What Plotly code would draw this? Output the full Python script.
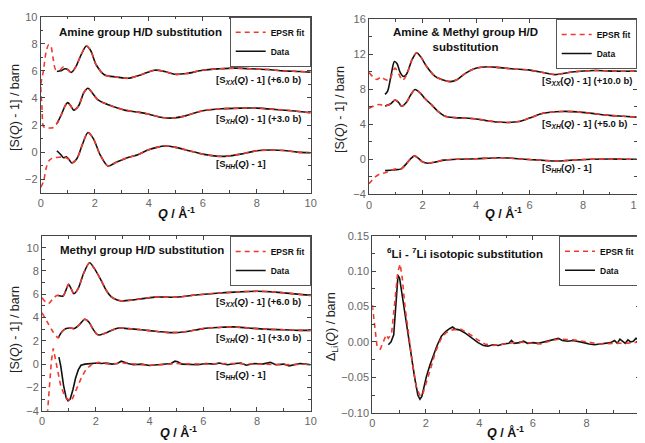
import plotly.graph_objects as go

# ---------------- DATA ----------------
# Panel 1: Amine group H/D substitution
p1_xx_q = [0.6, 0.75, 0.9, 1.0, 1.13, 1.3, 1.5, 1.69, 1.85, 2.06, 2.37, 2.8, 3.23, 3.7, 4.22, 4.6, 4.96, 5.4, 6.0, 6.6, 7.2, 7.8, 8.4, 9.0, 9.6, 10.0]
p1_xx = [5.95, 6.0, 6.15, 6.1, 5.88, 6.3, 7.2, 7.83, 7.5, 6.43, 5.69, 5.55, 5.45, 5.7, 6.05, 5.95, 5.75, 5.8, 6.05, 6.15, 6.2, 6.15, 6.1, 6.0, 5.95, 5.9]
p1_xx_fit_lowq_q = [0.0, 0.1, 0.2, 0.3, 0.38, 0.47, 0.55, 0.7, 0.85]
p1_xx_fit_lowq = [5.0, 6.0, 7.4, 7.95, 7.8, 6.8, 6.1, 6.05, 6.3]

p1_xh_q = [0.6, 0.75, 0.9, 1.0, 1.1, 1.22, 1.4, 1.6, 1.75, 1.9, 2.1, 2.37, 2.7, 3.1, 3.6, 4.0, 4.5, 4.96, 5.4, 6.0, 6.7, 7.4, 8.0, 8.7, 9.3, 10.0]
p1_xh = [2.1, 2.7, 3.4, 3.65, 3.45, 3.1, 3.4, 4.4, 4.71, 4.4, 3.9, 3.6, 3.35, 3.1, 2.95, 2.8, 2.55, 2.52, 2.7, 3.05, 3.2, 3.25, 3.25, 3.15, 3.05, 2.9]
p1_xh_fit_lowq_q = [0.0, 0.05, 0.1, 0.2, 0.35, 0.45, 0.52]
p1_xh_fit_lowq = [4.8, 3.2, 1.9, 1.78, 1.78, 1.8, 2.0]

p1_hh_q = [0.6, 0.75, 0.85, 0.95, 1.05, 1.15, 1.35, 1.55, 1.75, 1.95, 2.2, 2.49, 2.8, 3.23, 3.6, 3.97, 4.3, 4.6, 5.0, 5.5, 6.0, 6.5, 6.9, 7.4, 8.0, 8.5, 9.0, 9.5, 10.0]
p1_hh = [0.1, -0.2, -0.42, -0.35, -0.55, -0.8, -0.45, 0.6, 1.45, 1.0, -0.2, -1.03, -0.75, -0.4, -0.2, 0.15, 0.35, 0.45, 0.35, 0.1, -0.15, -0.3, -0.3, -0.15, 0.1, 0.15, 0.12, 0.0, -0.05]
p1_hh_fit_lowq_q = [0.0, 0.1, 0.2, 0.3, 0.4, 0.5, 0.7, 0.85]
p1_hh_fit_lowq = [-2.6, -2.2, -1.2, -0.65, -0.48, -0.42, -0.38, -0.36]

# Panel 2: Amine & Methyl group H/D substitution
p2_xx_q = [0.6, 0.7, 0.82, 0.95, 1.05, 1.15, 1.28, 1.4, 1.6, 1.78, 1.95, 2.16, 2.47, 2.8, 3.03, 3.3, 3.6, 3.96, 4.46, 4.9, 5.4, 5.95, 6.5, 6.95, 7.57, 8.44, 9.2, 10.0]
p2_xx = [7.4, 7.8, 9.5, 11.15, 10.9, 10.0, 9.45, 9.7, 11.3, 12.15, 11.6, 10.55, 9.45, 9.0, 8.85, 9.1, 9.8, 10.35, 10.55, 10.45, 10.3, 10.2, 9.9, 9.65, 9.95, 10.12, 10.05, 10.05]
p2_xx_fit_lowq_q = [0.0, 0.15, 0.3, 0.45, 0.6, 0.75, 0.97, 1.1, 1.25, 1.4]
p2_xx_fit_lowq = [9.9, 9.4, 9.1, 9.4, 9.1, 9.0, 10.4, 9.8, 9.0, 9.6]

p2_xh_q = [0.6, 0.8, 0.97, 1.1, 1.22, 1.4, 1.55, 1.72, 1.9, 2.1, 2.34, 2.6, 2.84, 3.2, 3.6, 4.0, 4.4, 4.8, 5.2, 5.6, 6.0, 6.5, 7.2, 7.8, 8.4, 9.0, 9.5, 10.0]
p2_xh = [6.08, 6.3, 6.76, 6.5, 6.05, 6.5, 7.3, 7.95, 7.6, 6.9, 6.2, 5.4, 4.9, 4.75, 4.7, 4.6, 4.4, 4.25, 4.2, 4.3, 4.7, 5.25, 5.45, 5.4, 5.2, 5.0, 4.9, 4.8]
p2_xh_fit_lowq_q = [0.0, 0.2, 0.4, 0.55]
p2_xh_fit_lowq = [5.8, 6.1, 6.25, 6.1]

p2_hh_q = [0.6, 0.8, 1.0, 1.2, 1.4, 1.55, 1.7, 1.85, 2.0, 2.2, 2.5, 2.8, 3.3, 4.0, 4.6, 5.2, 5.8, 6.4, 7.0, 7.6, 8.3, 9.0, 9.6, 10.0]
p2_hh = [-1.3, -1.25, -1.2, -1.1, -0.5, 0.05, 0.38, 0.1, -0.3, -0.45, -0.3, -0.1, 0.0, 0.05, 0.15, 0.15, 0.0, -0.1, -0.2, -0.1, 0.0, 0.02, 0.0, 0.0]
p2_hh_fit_lowq_q = [0.0, 0.2, 0.4, 0.6, 0.8, 1.0]
p2_hh_fit_lowq = [-2.8, -2.1, -1.7, -1.55, -1.3, -1.1]

# Panel 3: Methyl group H/D substitution
p3_xx_q = [0.6, 0.78, 0.9, 0.99, 1.08, 1.19, 1.35, 1.55, 1.77, 1.95, 2.2, 2.4, 2.58, 2.8, 2.95, 3.5, 4.2, 5.0, 5.8, 6.6, 7.3, 8.0, 8.6, 9.3, 10.0]
p3_xx = [5.9, 5.85, 6.4, 6.85, 6.5, 6.05, 6.5, 7.8, 8.7, 8.2, 7.2, 6.3, 5.77, 5.5, 5.43, 5.55, 5.75, 5.75, 5.95, 6.1, 6.2, 6.25, 6.2, 6.05, 5.9]
p3_xx_fit_lowq_q = [0.0, 0.15, 0.25, 0.4, 0.55]
p3_xx_fit_lowq = [5.7, 5.3, 5.2, 5.6, 5.9]

p3_xh_q = [0.6, 0.75, 0.9, 1.05, 1.2, 1.4, 1.59, 1.75, 1.9, 2.05, 2.15, 2.35, 2.6, 2.85, 3.2, 3.7, 4.3, 4.8, 5.4, 6.0, 6.6, 7.1, 7.7, 8.3, 9.0, 9.6, 10.0]
p3_xh = [2.25, 2.8, 3.06, 3.1, 3.05, 3.4, 3.85, 3.6, 3.0, 2.55, 2.5, 2.65, 2.9, 3.1, 3.05, 2.95, 2.8, 2.7, 2.8, 3.05, 3.15, 3.2, 3.1, 3.0, 2.95, 2.9, 2.9]
p3_xh_fit_lowq_q = [0.0, 0.2, 0.4, 0.55]
p3_xh_fit_lowq = [4.4, 3.6, 2.8, 2.35]

p3_hh_q = [0.63, 0.7, 0.8, 0.9, 0.97, 1.05, 1.15, 1.25, 1.35, 1.45, 1.6, 1.75, 1.9, 2.05, 2.2, 2.4, 2.6, 2.8, 2.95, 3.05, 3.2, 3.4, 3.7, 4.0, 4.3, 4.6, 4.8, 4.95, 5.05, 5.2, 5.5, 5.8, 6.1, 6.4, 6.6, 6.9, 7.2, 7.4, 7.6, 7.9, 8.2, 8.5, 8.7, 9.0, 9.2, 9.4, 9.6, 9.8, 10.0]
p3_hh = [0.6, -0.2, -1.8, -2.9, -3.15, -3.0, -2.2, -1.2, -0.5, -0.1, 0.0, 0.05, 0.05, 0.1, 0.05, 0.1, 0.0, 0.05, 0.25, 0.15, 0.05, -0.05, 0.0, -0.12, -0.05, 0.0, 0.05, 0.25, 0.2, 0.0, 0.0, -0.05, 0.05, 0.0, 0.1, -0.05, 0.05, 0.1, -0.1, 0.05, 0.0, 0.15, -0.05, 0.0, -0.15, -0.05, 0.05, 0.0, -0.05]
p3_hh_fit_q = [0.2, 0.28, 0.35, 0.42, 0.5, 0.6, 0.7, 0.84, 0.95, 1.09, 1.2, 1.32, 1.46, 1.6, 1.71, 1.9, 2.1, 2.5, 3.0, 3.5, 4.0, 4.5, 5.0, 6.0, 7.0, 8.0, 9.0, 10.0]
p3_hh_fit = [-4.3, -2.0, 0.3, 1.35, 0.4, -1.0, -1.9, -2.7, -3.0, -3.2, -2.6, -1.9, -1.2, -0.6, -0.3, 0.05, 0.15, 0.0, 0.1, 0.0, -0.1, -0.05, 0.05, 0.0, 0.05, 0.0, -0.05, 0.0]

# Panel 4: 6Li - 7Li isotopic substitution
p4_q = [0.6, 0.7, 0.8, 0.88, 0.96, 1.02, 1.08, 1.18, 1.27, 1.37, 1.46, 1.58, 1.7, 1.78, 1.85, 1.93, 2.02, 2.15, 2.27, 2.42, 2.58, 2.75, 2.9, 3.0, 3.1, 3.25, 3.45, 3.7, 3.95, 4.15, 4.32, 4.5, 4.7, 4.9, 5.1, 5.2, 5.3, 5.5, 5.65, 5.8, 6.0, 6.2, 6.4, 6.6, 6.8, 6.95, 7.1, 7.3, 7.5, 7.7, 7.9, 8.1, 8.3, 8.5, 8.7, 8.9, 9.05, 9.15, 9.25, 9.35, 9.45, 9.55, 9.65, 9.75, 9.85, 9.95, 10.0]
p4_data = [-0.004, 0.0, 0.01, 0.05, 0.094, 0.09, 0.075, 0.045, 0.022, 0.0, -0.02, -0.05, -0.075, -0.081, -0.077, -0.062, -0.049, -0.033, -0.02, -0.005, 0.008, 0.015, 0.019, 0.021, 0.018, 0.017, 0.013, 0.006, -0.001, -0.005, -0.006, -0.004, -0.005, -0.003, -0.002, 0.002, -0.002, -0.001, 0.001, -0.002, -0.001, -0.002, 0.0, 0.002, 0.004, 0.005, 0.002, 0.001, 0.002, 0.001, -0.001, -0.003, -0.004, -0.003, -0.002, -0.001, 0.002, -0.002, 0.004, 0.001, -0.002, 0.003, 0.0, 0.001, 0.005, 0.003, 0.002]
p4_fit_q = [0.0, 0.1, 0.18, 0.3, 0.42, 0.52, 0.6, 0.72, 0.85, 0.95, 1.04, 1.12, 1.22, 1.35, 1.5, 1.65, 1.8, 1.9, 2.05, 2.2, 2.35, 2.55, 2.75, 3.0, 3.3, 3.6, 3.9, 4.2, 4.5, 5.0, 5.5, 6.0, 6.3, 6.7, 7.0, 7.5, 8.0, 8.5, 9.0, 9.5, 10.0]
p4_fit = [0.052, 0.02, -0.007, -0.01, 0.0, 0.01, 0.005, 0.012, 0.06, 0.098, 0.11, 0.09, 0.05, 0.01, -0.03, -0.065, -0.077, -0.072, -0.055, -0.035, -0.015, 0.003, 0.013, 0.017, 0.018, 0.012, 0.004, -0.003, -0.005, -0.003, 0.0, -0.002, -0.003, 0.002, 0.004, 0.003, 0.0, -0.003, -0.002, -0.002, 0.0]

x_ticks = [0, 2, 4, 6, 8, 10]

# ---------------- FIGURE ----------------
FONT = "Liberation Sans, Arial, sans-serif"
RED = "#f03a2e"
BLACK = "#111111"
OFF = 8                      # default page margin around the plot div
W, H = 645 - OFF, 443 - OFF  # figure size so that it fits the window


def px_x(v):
    return (v - OFF) / W


def px_y(v):
    return 1 - (v - OFF) / H


fig = go.Figure()


def fit_from(lowq_q, lowq, data_q, data, qmin):
    q = list(lowq_q) + [a for a in data_q if a >= qmin]
    v = list(lowq) + [b for a, b in zip(data_q, data) if a >= qmin]
    return q, v


def add_pair(xa, ya, leg, dq, dv, fq, fv, show, dshape="spline"):
    fig.add_trace(go.Scatter(x=dq, y=dv, mode="lines", name="<b>Data</b>", xaxis=xa, yaxis=ya,
                             line=dict(color=BLACK, width=1.6, shape=dshape, smoothing=0.8),
                             legend=leg, showlegend=show, legendrank=2))
    fig.add_trace(go.Scatter(x=fq, y=fv, mode="lines", name="<b>EPSR fit</b>", xaxis=xa, yaxis=ya,
                             line=dict(color=RED, width=1.6, dash="5px,4px", shape=dshape, smoothing=0.8),
                             legend=leg, showlegend=show, legendrank=1))


# panel 1
q, v = fit_from(p1_xx_fit_lowq_q, p1_xx_fit_lowq, p1_xx_q, p1_xx, 1.0)
add_pair("x", "y", "legend", p1_xx_q, p1_xx, q, v, True)
q, v = fit_from(p1_xh_fit_lowq_q, p1_xh_fit_lowq, p1_xh_q, p1_xh, 0.6)
add_pair("x", "y", "legend", p1_xh_q, p1_xh, q, v, False)
q, v = fit_from(p1_hh_fit_lowq_q, p1_hh_fit_lowq, p1_hh_q, p1_hh, 1.05)
add_pair("x", "y", "legend", p1_hh_q, p1_hh, q, v, False)

# panel 2
q, v = fit_from(p2_xx_fit_lowq_q, p2_xx_fit_lowq, p2_xx_q, p2_xx, 1.6)
add_pair("x2", "y2", "legend2", p2_xx_q, p2_xx, q, v, True)
q, v = fit_from(p2_xh_fit_lowq_q, p2_xh_fit_lowq, p2_xh_q, p2_xh, 0.6)
add_pair("x2", "y2", "legend2", p2_xh_q, p2_xh, q, v, False)
q, v = fit_from(p2_hh_fit_lowq_q, p2_hh_fit_lowq, p2_hh_q, p2_hh, 1.2)
add_pair("x2", "y2", "legend2", p2_hh_q, p2_hh, q, v, False)

# panel 3
q, v = fit_from(p3_xx_fit_lowq_q, p3_xx_fit_lowq, p3_xx_q, p3_xx, 0.6)
add_pair("x3", "y3", "legend3", p3_xx_q, p3_xx, q, v, True)
q, v = fit_from(p3_xh_fit_lowq_q, p3_xh_fit_lowq, p3_xh_q, p3_xh, 0.6)
add_pair("x3", "y3", "legend3", p3_xh_q, p3_xh, q, v, False)
add_pair("x3", "y3", "legend3", p3_hh_q, p3_hh, p3_hh_fit_q, p3_hh_fit, False, dshape="linear")

# panel 4
add_pair("x4", "y4", "legend4", p4_q, p4_data, p4_fit_q, p4_fit, True, dshape="linear")

# axes (positions in window pixels)
dom = {
    1: ([40.7, 310.7], [16.7, 192.7]),
    2: ([369, 636.7], [19, 194.3]),
    3: ([42, 310.7], [236, 410.7]),
    4: ([372.3, 640], [235.7, 412.7]),
}
MINOR = dict(ticks="inside", ticklen=2.5, tickcolor="#444")
yspec = {
    1: dict(range=[-3, 10], dtick=2, tick0=0, minor=dict(dtick=1, **MINOR)),
    2: dict(range=[-4, 16], dtick=4, tick0=0, minor=dict(dtick=2, **MINOR)),
    3: dict(range=[-4, 11], dtick=2, tick0=0, minor=dict(dtick=1, **MINOR)),
    4: dict(range=[-0.10, 0.15], dtick=0.05, tick0=0, tickformat=".2f", minor=dict(dtick=0.025, **MINOR)),
}
common = dict(showline=True, linecolor="#444", linewidth=1, mirror="allticks", ticks="inside",
              ticklen=4, tickcolor="#444", showgrid=False, zeroline=False, automargin=False,
              tickfont=dict(family=FONT, size=11, color="#666"))
layout_axes = {}
for i in range(1, 5):
    sx = "" if i == 1 else str(i)
    (x0, x1), (y0, y1) = dom[i]
    layout_axes["xaxis" + sx] = dict(domain=[px_x(x0), min(1.0, px_x(x1))], anchor="y" + sx, range=[0, 10],
                                      tickvals=x_ticks, minor=dict(dtick=1, **MINOR), **common)
    layout_axes["yaxis" + sx] = dict(domain=[max(0.0, px_y(y1)), px_y(y0)], anchor="x" + sx, **yspec[i], **common)

fig.update_layout(**layout_axes)


# legends
def legend_spec(xr, yt):
    return dict(x=min(1.0, px_x(xr)), y=px_y(yt), xanchor="right", yanchor="top", bgcolor="white",
                bordercolor="#555", borderwidth=1, font=dict(family=FONT, size=8.5, color="#111"),
                tracegroupgap=0, itemwidth=30, traceorder="normal")


fig.update_layout(
    legend=legend_spec(310.7, 16.7),
    legend2=legend_spec(636.7, 19),
    legend3=legend_spec(310.7, 236),
    legend4=legend_spec(640, 235.7),
)

ann = []


def add_ann(text, x, y, size, xanchor="left", angle=0, xref="paper", yref="paper", bold=True, color="#111"):
    t = "<b>" + text + "</b>" if bold else text
    ann.append(dict(text=t, x=x, y=y, xref=xref, yref=yref, xanchor=xanchor, yanchor="middle",
                    showarrow=False, textangle=angle, font=dict(family=FONT, size=size, color=color)))


# panel titles
add_ann("Amine group H/D substitution", px_x(57), px_y(32), 11.5)
add_ann("Amine & Methyl group H/D<br>substitution", px_x(391), px_y(39.5), 11.5)
add_ann("Methyl group H/D substitution", px_x(58), px_y(250), 11.5)
add_ann("<sup>6</sup>Li - <sup>7</sup>Li isotopic substitution", px_x(385), px_y(252.5), 11.5)

# curve labels
lbl_xx = "[S<sub><i>XX</i></sub>(<i>Q</i>) - 1]"
lbl_xh = "[S<sub><i>XH</i></sub>(<i>Q</i>) - 1]"
lbl_hh = "[S<sub><i>HH</i></sub>(<i>Q</i>) - 1]"
add_ann(lbl_xx + " (+6.0 b)", 6.42, 5.32, 9.5, xref="x", yref="y")
add_ann(lbl_xh + " (+3.0 b)", 6.42, 2.44, 9.5, xref="x", yref="y")
add_ann(lbl_hh, 6.42, -0.88, 9.5, xref="x", yref="y")
add_ann(lbl_xx + " (+10.0 b)", 6.39, 8.93, 9.5, xref="x2", yref="y2")
add_ann(lbl_xh + " (+5.0 b)", 6.39, 4.0, 9.5, xref="x2", yref="y2")
add_ann(lbl_hh, 6.39, -0.96, 9.5, xref="x2", yref="y2")
add_ann(lbl_xx + " (+6.0 b)", 6.41, 5.34, 9.5, xref="x3", yref="y3")
add_ann(lbl_xh + " (+3.0 b)", 6.41, 2.25, 9.5, xref="x3", yref="y3")
add_ann(lbl_hh, 6.41, -0.94, 9.5, xref="x3", yref="y3")

# axis titles
ytitle = "[S(<i>Q</i>) - 1] / barn"
add_ann(ytitle, px_x(15), px_y(108), 12.5, xanchor="center", angle=-90, bold=False, color="#222")
add_ann(ytitle, px_x(340), px_y(110), 12.5, xanchor="center", angle=-90, bold=False, color="#222")
add_ann(ytitle, px_x(15), px_y(330), 12.5, xanchor="center", angle=-90, bold=False, color="#222")
add_ann("Δ<sub>Li</sub>(<i>Q</i>) / barn", px_x(332), px_y(327), 12.5, xanchor="center", angle=-90, bold=False, color="#222")
xtitle = "<i>Q</i> / Å<sup>-1</sup>"
add_ann(xtitle, px_x(176), px_y(213), 12.5, xanchor="center")
add_ann(xtitle, px_x(503), px_y(213), 12.5, xanchor="center")
add_ann(xtitle, px_x(178), px_y(432), 12.5, xanchor="center")
add_ann(xtitle, px_x(505), px_y(432), 12.5, xanchor="center")

fig.update_layout(
    annotations=ann,
    width=W, height=H,
    margin=dict(l=0, r=0, t=0, b=0, autoexpand=False),
    paper_bgcolor="white", plot_bgcolor="white",
    font=dict(family=FONT),
)

fig.write_html("out.html")
